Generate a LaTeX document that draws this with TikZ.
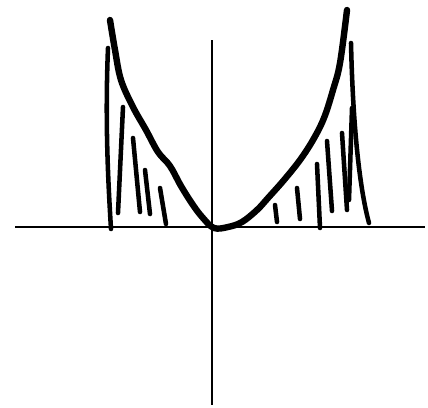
\documentclass[tikz,border=0pt]{standalone}
\begin{document}
\begin{tikzpicture}[
      x=0.75pt, y=-0.75pt,
      axis/.style={line width=1.6pt},
      curve/.style={line width=4.8pt, line cap=round, line join=round},
      hatch/.style={line width=3.4pt, line cap=round}
    ]
      \useasboundingbox (0,0) rectangle (428,407);
      % axes
      \draw[axis] (15,227) -- (425,227);
      \draw[axis] (212,40) -- (212,405);

      % parabola
      \draw[curve] plot[smooth, tension=0.6] coordinates {
        (110,20) (115,50) (121,80) (133,107) (146,130) (158,152) (170,166)
        (181,186) (193,205) (203,218) (214,228) (228,227) (242,222)
        (257,210) (268,198) (284,180) (300,160) (313,140) (324,118)
        (333,90) (340,63) (347,10)};

      % hatching, left
      \draw[hatch] (108,48) .. controls (105,120) and (108,180) .. (111,229);
      \draw[hatch] (123,107) -- (118,213);
      \draw[hatch] (133,138) -- (140,212);
      \draw[hatch] (145,170) -- (150,214);
      \draw[hatch] (160,188) -- (166,224);

      % hatching, right
      \draw[hatch] (351,43) .. controls (353,130) and (360,190) .. (369,223);
      \draw[hatch] (275,205) -- (277,222);
      \draw[hatch] (297,188) -- (300,219);
      \draw[hatch] (317,164) -- (320,228);
      \draw[hatch] (327,141) -- (332,211);
      \draw[hatch] (342,133) -- (347,210);
      \draw[hatch] (352,108) -- (349,200);
\end{tikzpicture}
\end{document}
